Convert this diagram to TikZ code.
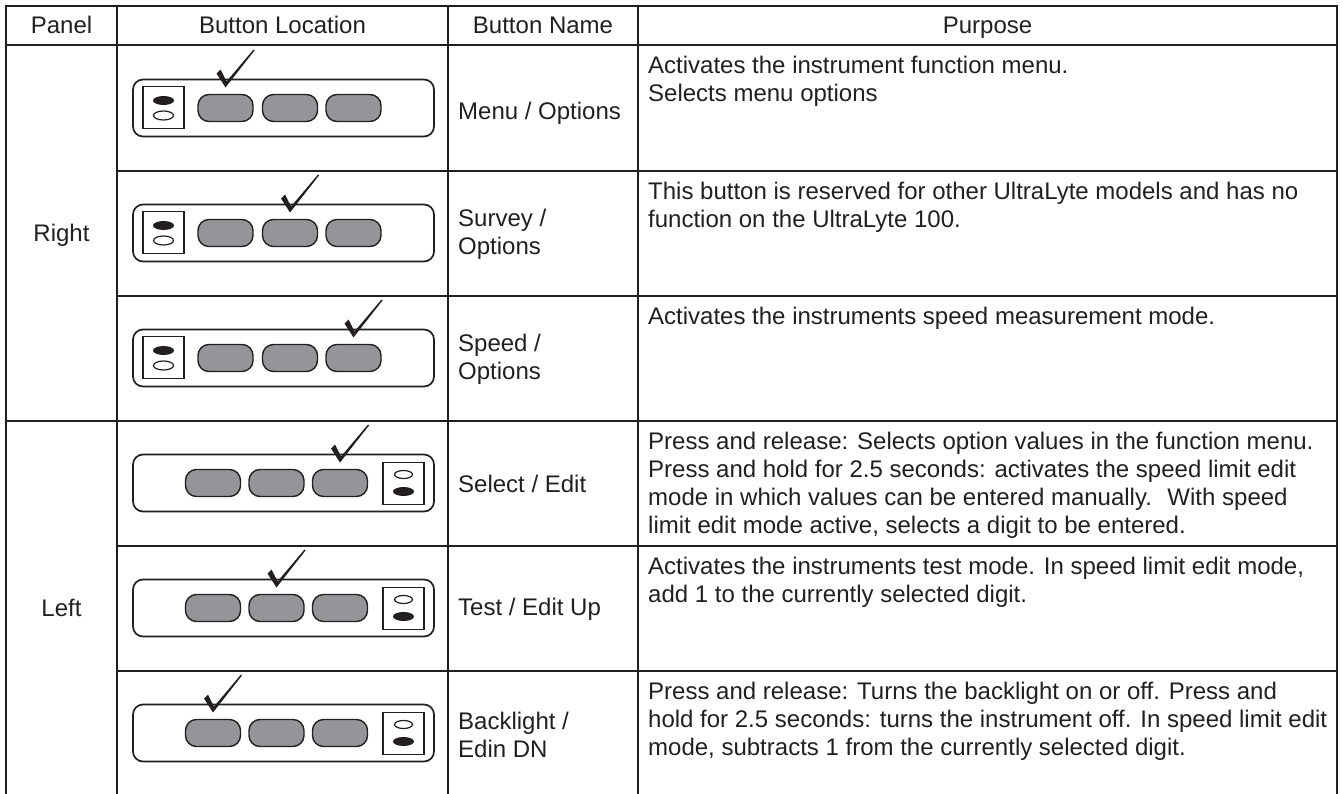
\documentclass[tikz,border=0pt]{standalone}
\usepackage{fontspec}
\setmainfont{Liberation Sans}
\definecolor{ink}{HTML}{231F20}
\definecolor{keygray}{HTML}{939598}

\begin{document}
\begin{tikzpicture}[x=1pt,y=-1pt,
        every node/.style={font=\fontsize{24}{28}\selectfont, text=ink, inner sep=0pt},
        rule/.style={draw=ink, line width=2.4pt},
        case/.style={draw=ink, line width=1.7pt, rounded corners=10pt},
        key/.style={draw=ink, fill=keygray, line width=1.4pt, rounded corners=11pt},
        lamp/.style={draw=ink, line width=1.5pt},
        head/.style={anchor=base},
        bname/.style={anchor=west, align=left},
        purpose/.style={anchor=north west, align=left}]
        \useasboundingbox (0,0) rectangle (1343,794);
        % table rules
        \draw[rule] (6,794) -- (6,6) -- (1337,6) -- (1337,794);
        \foreach \x in {117,448,638}
            \draw[rule] (\x,6) -- (\x,794);
        \foreach \y in {45,421}
            \draw[rule] (6,\y) -- (1337,\y);
        \foreach \y in {171,296,546,671}
            \draw[rule] (117,\y) -- (1337,\y);
        \node[head] (hpanel) at (61.5,34) {Panel};
        \node[head] (hloc) at (282.5,34) {Button Location};
        \node[head] (hname) at (543,34) {Button Name};
        \node[head] (hpurpose) at (987.5,34) {Purpose};
        \node[head] (right) at (61.5,242) {Right};
        \node[head] (left) at (61.5,616) {Left};
        % right panel keypads, lamp on the left
        \foreach \t/\k in {79.5/225.5, 204.5/290, 329.5/353.5} {
            \draw[case] (133,\t) rectangle (434,\t+57);
            \draw[lamp] (143,\t+7) rectangle (184,\t+49);
            \fill[ink] (163.5,\t+21) ellipse [x radius=10.5, y radius=4.5];
            \draw[ink, line width=1.2pt] (163.5,\t+36) ellipse [x radius=10, y radius=4.5];
            \foreach \b in {225.5,290,353.5}
                \draw[key] (\b-27.5,\t+15) rectangle (\b+27.5,\t+42);
            \fill[ink, shift={(\k,\t)}] (-9,-6) -- (-5,-10) -- (1,2) -- (28,-30)
                -- (29,-29) -- (0,8) -- cycle;
        }
        % left panel keypads, lamp on the right
        \foreach \t/\k in {454.5/340, 579.5/276.5, 704.5/213} {
            \draw[case] (133,\t) rectangle (434,\t+57);
            \draw[lamp] (383,\t+8) rectangle (424,\t+50);
            \draw[ink, line width=1.2pt] (403.5,\t+20) ellipse [x radius=9, y radius=4];
            \fill[ink] (403.5,\t+37) ellipse [x radius=10.5, y radius=4.5];
            \foreach \b in {213,276.5,340}
                \draw[key] (\b-27.5,\t+15) rectangle (\b+27.5,\t+42);
            \fill[ink, shift={(\k,\t)}] (-9,-6) -- (-5,-10) -- (1,2) -- (28,-30)
                -- (29,-29) -- (0,8) -- cycle;
        }
        \node[bname] (nmenu) at (458,113) {Menu / Options};
        \node[bname] (nsurvey) at (458,234) {Survey /\\Options};
        \node[bname] (nspeed) at (458,359) {Speed /\\Options};
        \node[bname] (nselect) at (458,484) {Select / Edit};
        \node[bname] (ntest) at (458,609) {Test / Edit Up};
        \node[bname] (nback) at (458,735) {Backlight /\\Edin DN};
        \node[purpose] (pmenu) at (648,56) {Activates the instrument function menu.\\
            Selects menu options};
        \node[purpose] (psurvey) at (648,182) {This button is reserved for other UltraLyte models and has no\\
            function on the UltraLyte 100.};
        \node[purpose] (pspeed) at (648,307) {Activates the instruments speed measurement mode.};
        \node[purpose] (pselect) at (648,432) {Press and release: Selects option values in the function menu.\\
            Press and hold for 2.5 seconds: activates the speed limit edit\\
            mode in which values can be entered manually.~ With speed\\
            limit edit mode active, selects a digit to be entered.};
        \node[purpose] (ptest) at (648,557) {Activates the instruments test mode. In speed limit edit mode,\\
            add 1 to the currently selected digit.};
        \node[purpose] (pback) at (648,682) {Press and release: Turns the backlight on or off. Press and\\
            hold for 2.5 seconds: turns the instrument off. In speed limit edit\\
            mode, subtracts 1 from the currently selected digit.};
    \end{tikzpicture}
\end{document}
